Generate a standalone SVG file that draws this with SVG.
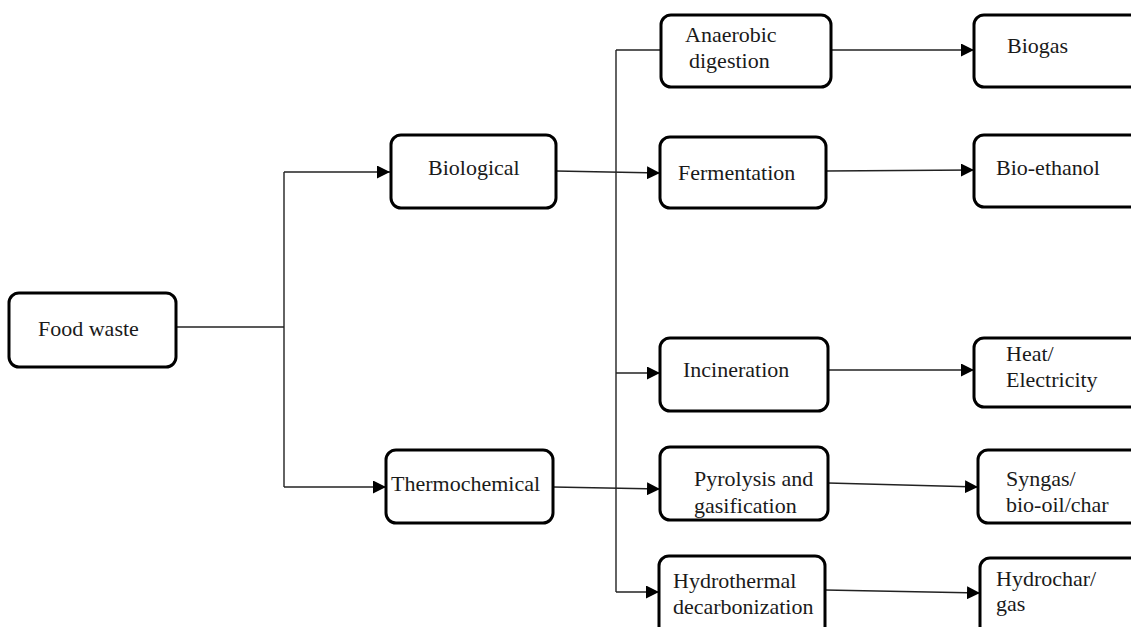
<svg xmlns="http://www.w3.org/2000/svg" width="1131" height="627" viewBox="0 0 1131 627">
<style>
.box{fill:#fff;stroke:#000;stroke-width:3}
.t{font-family:"Liberation Serif","Times New Roman",serif;font-size:22px;fill:#1a1a1a}
.c{fill:none;stroke:#222;stroke-width:1.4}
</style>
<defs>
<marker id="ar" markerWidth="13" markerHeight="13" refX="13" refY="6.5" orient="auto" markerUnits="userSpaceOnUse">
<path d="M0,0 L13,6.5 L0,13 Z" fill="#000"/>
</marker>
</defs>
<rect width="1131" height="627" fill="#fff"/>
<g id="connectors">
<path class="c" d="M176,327 H284"/>
<path class="c" d="M284,172 V487"/>
<path class="c" d="M284,172 H390" marker-end="url(#ar)"/>
<path class="c" d="M284,487 H386" marker-end="url(#ar)"/>
<path class="c" d="M556,171 L660,173" marker-end="url(#ar)"/>
<path class="c" d="M553,487 L660,489" marker-end="url(#ar)"/>
<path class="c" d="M616,50 V592"/>
<path class="c" d="M616,50 H661"/>
<path class="c" d="M616,373 H660" marker-end="url(#ar)"/>
<path class="c" d="M616,592 H659" marker-end="url(#ar)"/>
<path class="c" d="M831,50 H974" marker-end="url(#ar)"/>
<path class="c" d="M826,171 L974,170" marker-end="url(#ar)"/>
<path class="c" d="M827,370 H974" marker-end="url(#ar)"/>
<path class="c" d="M828,483 L978,487" marker-end="url(#ar)"/>
<path class="c" d="M825,590 L980,593" marker-end="url(#ar)"/>
</g>
<g id="food-waste"><rect class="box" x="9" y="293" width="167" height="74" rx="10"/><text class="t" x="38" y="336">Food waste</text></g>
<g id="biological"><rect class="box" x="391" y="135" width="165" height="73" rx="10"/><text class="t" x="428" y="175">Biological</text></g>
<g id="thermochemical"><rect class="box" x="386" y="450" width="167" height="73" rx="10"/><text class="t" x="391" y="491">Thermochemical</text></g>
<g id="anaerobic"><rect class="box" x="661" y="15" width="170" height="72" rx="10"/><text class="t" x="685" y="42">Anaerobic</text><text class="t" x="689" y="68">digestion</text></g>
<g id="fermentation"><rect class="box" x="660" y="137" width="166" height="71" rx="10"/><text class="t" x="678" y="180">Fermentation</text></g>
<g id="incineration"><rect class="box" x="660" y="338" width="168" height="73" rx="10"/><text class="t" x="683" y="377">Incineration</text></g>
<g id="pyrolysis"><rect class="box" x="660" y="447" width="168" height="73" rx="10"/><text class="t" x="694" y="486">Pyrolysis and</text><text class="t" x="694" y="513">gasification</text></g>
<g id="hydrothermal"><rect class="box" x="659" y="556" width="166" height="90" rx="10"/><text class="t" x="673" y="588">Hydrothermal</text><text class="t" x="673" y="614">decarbonization</text></g>
<g id="biogas"><rect class="box" x="974" y="15" width="180" height="72" rx="10"/><text class="t" x="1007" y="53">Biogas</text></g>
<g id="bio-ethanol"><rect class="box" x="974" y="135" width="180" height="72" rx="10"/><text class="t" x="996" y="175">Bio-ethanol</text></g>
<g id="heat"><rect class="box" x="974" y="338" width="180" height="69" rx="10"/><text class="t" x="1006" y="361">Heat/</text><text class="t" x="1006" y="387">Electricity</text></g>
<g id="syngas"><rect class="box" x="978" y="450" width="180" height="73" rx="10"/><text class="t" x="1006" y="486">Syngas/</text><text class="t" x="1006" y="512">bio-oil/char</text></g>
<g id="hydrochar"><rect class="box" x="980" y="558" width="180" height="90" rx="10"/><text class="t" x="996" y="586">Hydrochar/</text><text class="t" x="996" y="611">gas</text></g>
</svg>
